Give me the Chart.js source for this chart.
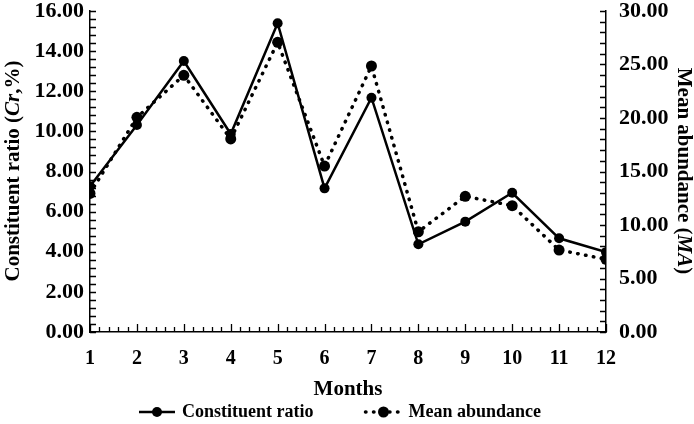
<!DOCTYPE html>
<html>
<head>
<meta charset="utf-8">
<script src="https://cdn.jsdelivr.net/npm/chart.js@4.4.1/dist/chart.umd.min.js"></script>
<style>
  html, body { margin: 0; padding: 0; background: #fff; }
  #wrap { width: 694px; height: 424px; position: relative; }
</style>
</head>
<body>
<div id="wrap"><canvas id="chart"></canvas></div>
<script>
// data
const months = [1, 2, 3, 4, 5, 6, 7, 8, 9, 10, 11, 12];
const constituentRatio = [7.26, 10.32, 13.51, 9.87, 15.39, 7.16, 11.68, 4.37, 5.50, 6.94, 4.67, 3.98];
const meanAbundance = [12.95, 20.06, 23.99, 18.04, 27.07, 15.51, 24.86, 9.37, 12.68, 11.81, 7.66, 6.80];
const leftTicks = [0, 2, 4, 6, 8, 10, 12, 14, 16];
const rightTicks = [0, 5, 10, 15, 20, 25, 30];

const FONT = "'Liberation Serif', 'Times New Roman', serif";

// inward ticks, axis titles with italic parts, legend with line samples
const decorPlugin = {
    id: 'decor',
    afterDraw(chart) {
        const ctx = chart.ctx;
        const area = chart.chartArea;
        const sx = chart.scales.x, sy = chart.scales.y, sy1 = chart.scales.y1;

        ctx.save();
        ctx.strokeStyle = '#000';
        ctx.lineWidth = 1.3;
        ctx.beginPath();
        // x axis: major each month, minor each 0.2
        for (let i = 0; i <= 55; i++) {
            const px = Math.round(sx.getPixelForValue(1 + i / 5)) + 0.5;
            const len = i % 5 === 0 ? 8 : 5;
            ctx.moveTo(px, area.bottom);
            ctx.lineTo(px, area.bottom - len);
        }
        // left axis: minor every 0.4
        for (let i = 0; i <= 40; i++) {
            const py = Math.round(sy.getPixelForValue(i * 0.4)) + 0.5;
            ctx.moveTo(area.left, py);
            ctx.lineTo(area.left + 6, py);
        }
        // right axis: minor every 1
        for (let i = 0; i <= 30; i++) {
            const py = Math.round(sy1.getPixelForValue(i)) + 0.5;
            ctx.moveTo(area.right, py);
            ctx.lineTo(area.right - 6, py);
        }
        ctx.stroke();

        // rich text helper
        const drawRich = (parts, size) => {
            let total = 0;
            parts.forEach(p => {
                ctx.font = (p.i ? 'italic ' : '') + 'bold ' + size + 'px ' + FONT;
                p.w = ctx.measureText(p.t).width;
                total += p.w;
            });
            let x = -total / 2;
            ctx.textBaseline = 'middle';
            ctx.textAlign = 'left';
            parts.forEach(p => {
                ctx.font = (p.i ? 'italic ' : '') + 'bold ' + size + 'px ' + FONT;
                ctx.fillText(p.t, x, 0);
                x += p.w;
            });
        };

        ctx.fillStyle = '#000';
        // left title
        ctx.save();
        ctx.translate(14, 171);
        ctx.rotate(-Math.PI / 2);
        drawRich([{ t: 'Constituent ratio (' }, { t: 'Cr', i: true }, { t: ',%)' }], 21);
        ctx.restore();

        // right title
        ctx.save();
        ctx.translate(683, 171);
        ctx.rotate(Math.PI / 2);
        drawRich([{ t: 'Mean abundance (' }, { t: 'MA', i: true }, { t: ')' }], 21);
        ctx.restore();

        // x title
        ctx.save();
        ctx.translate(348, 390);
        drawRich([{ t: 'Months' }], 21);
        ctx.restore();

        // legend
        const sampleW = 36, gap = 7, itemGap = 52, ly = 412;
        ctx.font = 'bold 18px ' + FONT;
        const items = chart.data.datasets.map(ds => ({ ds, w: ctx.measureText(ds.label).width }));
        let totalW = 0;
        items.forEach((it, k) => { totalW += sampleW + gap + it.w + (k ? itemGap : 0); });
        let lx = 340 - totalW / 2;
        items.forEach(it => {
            const ds = it.ds;
            ctx.save();
            ctx.strokeStyle = ds.borderColor;
            ctx.lineWidth = ds.borderWidth;
            ctx.lineCap = ds.borderCapStyle || 'butt';
            ctx.setLineDash(ds.borderDash || []);
            ctx.beginPath();
            ctx.moveTo(lx, ly);
            ctx.lineTo(lx + sampleW, ly);
            ctx.stroke();
            ctx.restore();
            ctx.beginPath();
            ctx.arc(lx + sampleW / 2, ly, ds.pointRadius, 0, Math.PI * 2);
            ctx.fill();
            ctx.textAlign = 'left';
            ctx.textBaseline = 'middle';
            ctx.fillText(ds.label, lx + sampleW + gap, ly);
            lx += sampleW + gap + it.w + itemGap;
        });
        ctx.restore();
    }
};

const xFont = { family: FONT, size: 20, weight: 'bold' };
const yFont = { family: FONT, size: 22, weight: 'bold' };

// keep the plot box where the figure has it
const noPad = s => { s.paddingTop = 0; s.paddingBottom = 0; s.paddingLeft = 0; s.paddingRight = 0; };

new Chart(document.getElementById('chart'), {
    type: 'line',
    data: {
        datasets: [{
            label: 'Constituent ratio',
            data: months.map((m, i) => ({ x: m, y: constituentRatio[i] })),
            yAxisID: 'y',
            borderColor: '#000',
            backgroundColor: '#000',
            borderWidth: 2.5,
            pointRadius: 5,
            pointBackgroundColor: '#000',
            pointBorderWidth: 0,
            tension: 0
        }, {
            label: 'Mean abundance',
            data: months.map((m, i) => ({ x: m, y: meanAbundance[i] })),
            yAxisID: 'y1',
            borderColor: '#000',
            backgroundColor: '#000',
            borderWidth: 3.5,
            borderDash: [0.5, 7.5],
            borderCapStyle: 'round',
            pointRadius: 5.5,
            pointBackgroundColor: '#000',
            pointBorderWidth: 0,
            tension: 0
        }]
    },
    options: {
        responsive: true,
        maintainAspectRatio: false,
        animation: false,
        layout: { padding: { top: 11, left: 0, right: 0, bottom: 0 } },
        plugins: {
            legend: { display: false },
            tooltip: { enabled: false }
        },
        scales: {
            x: {
                type: 'linear',
                min: 1,
                max: 12,
                ticks: { stepSize: 1, color: '#000', font: xFont, padding: 15, callback: v => String(v) },
                grid: { display: false, drawTicks: false },
                border: { display: true, color: '#000', width: 1.5 },
                afterFit: s => { s.height = 92; noPad(s); }
            },
            y: {
                position: 'left',
                min: leftTicks[0],
                max: leftTicks[leftTicks.length - 1],
                ticks: { stepSize: leftTicks[1] - leftTicks[0], color: '#000', font: yFont, padding: 6, callback: v => v.toFixed(2) },
                grid: { display: false, drawTicks: false },
                border: { display: true, color: '#000', width: 1.5 },
                afterFit: s => { s.width = 90; noPad(s); }
            },
            y1: {
                position: 'right',
                min: rightTicks[0],
                max: rightTicks[rightTicks.length - 1],
                ticks: { stepSize: rightTicks[1] - rightTicks[0], color: '#000', font: yFont, padding: 13, callback: v => v.toFixed(2) },
                grid: { display: false, drawTicks: false },
                border: { display: true, color: '#000', width: 1.5 },
                afterFit: s => { s.width = 88; noPad(s); }
            }
        }
    },
    plugins: [decorPlugin]
});
</script>
</body>
</html>
